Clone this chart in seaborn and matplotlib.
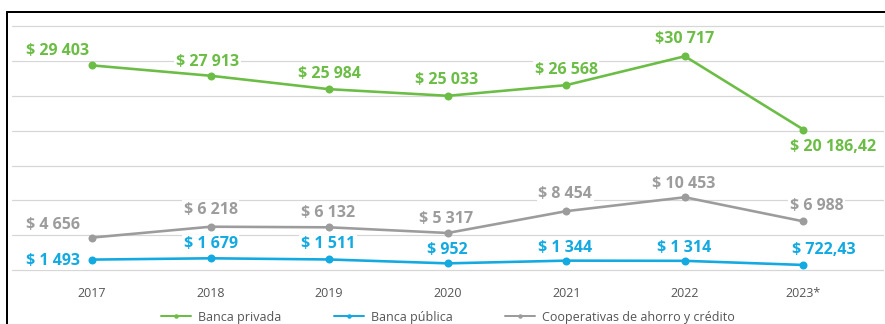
import matplotlib
matplotlib.use("Agg")
import matplotlib.pyplot as plt
from matplotlib.lines import Line2D
import pandas as pd
import seaborn as sns

# Data (millones de USD)
years = ["2017", "2018", "2019", "2020", "2021", "2022", "2023*"]
banca_privada = [29403, 27913, 25984, 25033, 26568, 30717, 20186.42]
banca_publica = [1493, 1679, 1511, 952, 1344, 1314, 722.43]
cooperativas = [4656, 6218, 6132, 5317, 8454, 10453, 6988]

series_names = ["Banca privada", "Banca pública", "Cooperativas de ahorro y crédito"]
colors = ["#6BBD45", "#13A9E1", "#9C9C9C"]

# Label placement (offsets in points from each marker)
offsets = {
    "Banca privada": [(-34, 14), (-3, 14), (0, 15), (-1, 16), (0, 15), (0, 17), (30, -17)],
    "Banca pública": [(-39, -1), (0, 14), (-1, 15), (0, 13), (-1, 13), (-1, 13), (20, 15)],
    "Cooperativas de ahorro y crédito": [(-39, 13), (0, 17), (-1, 14), (-2, 14), (-1, 17), (-1, 13), (13, 15)],
}


def fmt(v, sep=" "):
    if float(v).is_integer():
        s = f"{int(v):,}".replace(",", " ")
    else:
        s = f"{v:,.2f}".replace(",", " ").replace(".", ",")
    return f"${sep}{s}"


df = pd.concat([
    pd.DataFrame({"pos": range(len(years)), "valor": vals, "serie": name})
    for name, vals in zip(series_names, [banca_privada, banca_publica, cooperativas])
], ignore_index=True)

sns.set_style("white")
plt.rcParams["font.family"] = ["Open Sans", "DejaVu Sans"]

DPI = 72
fig = plt.figure(figsize=(885 / DPI, 324 / DPI), dpi=DPI)
ax = fig.add_axes([12 / 885, 52 / 324, 872 / 885, 261 / 324])

palette = dict(zip(series_names, colors))
sns.lineplot(data=df, x="pos", y="valor", hue="serie", palette=palette,
             marker="o", markersize=8, markeredgewidth=0, linewidth=2.6,
             legend=False, ax=ax, zorder=4)

ax.set_xlim(-0.675, 6.68)
ax.set_ylim(-290, 37220)
ax.set_yticks(range(0, 35001, 5000))
ax.set_yticklabels([])
ax.set_xticks(range(len(years)))
ax.set_xticklabels(years, color="#555555", fontsize=12.5)
ax.tick_params(axis="x", length=0, pad=15)
ax.tick_params(axis="y", length=0)
ax.yaxis.grid(True, color="#D6D6D6", linewidth=1.2)
ax.xaxis.grid(False)
ax.set_axisbelow(True)
ax.set_xlabel("")
ax.set_ylabel("")
for sp in ax.spines.values():
    sp.set_visible(False)

for name, vals, col in zip(series_names, [banca_privada, banca_publica, cooperativas], colors):
    for i, v in enumerate(vals):
        sep = "" if (name == "Banca privada" and i == 5) else " "
        ax.annotate(fmt(v, sep), (i, v), xytext=offsets[name][i], textcoords="offset points",
                    ha="center", va="center", fontsize=16, fontweight="bold", color=col,
                    bbox=dict(boxstyle="square,pad=0.1", fc="white", ec="none"), zorder=3)

handles = [Line2D([], [], color=c, linewidth=2, marker="o", markersize=4.5, markeredgewidth=0)
           for c in colors]
fig.legend(handles, series_names, loc="center", bbox_to_anchor=(448 / 885, 7 / 324),
           ncol=3, frameon=False, fontsize=12.5, handlelength=2.4, handletextpad=0.55,
           columnspacing=4.2, labelcolor="#555555")

# Outer frame (top and left edges)
fig.add_artist(Line2D([6.5 / 885, 1.0], [1 - 11.5 / 324, 1 - 11.5 / 324],
                      transform=fig.transFigure, color="black", linewidth=2))
fig.add_artist(Line2D([6.5 / 885, 6.5 / 885], [0, 1 - 11.5 / 324],
                      transform=fig.transFigure, color="black", linewidth=2))

fig.savefig("out.png", dpi=DPI)
